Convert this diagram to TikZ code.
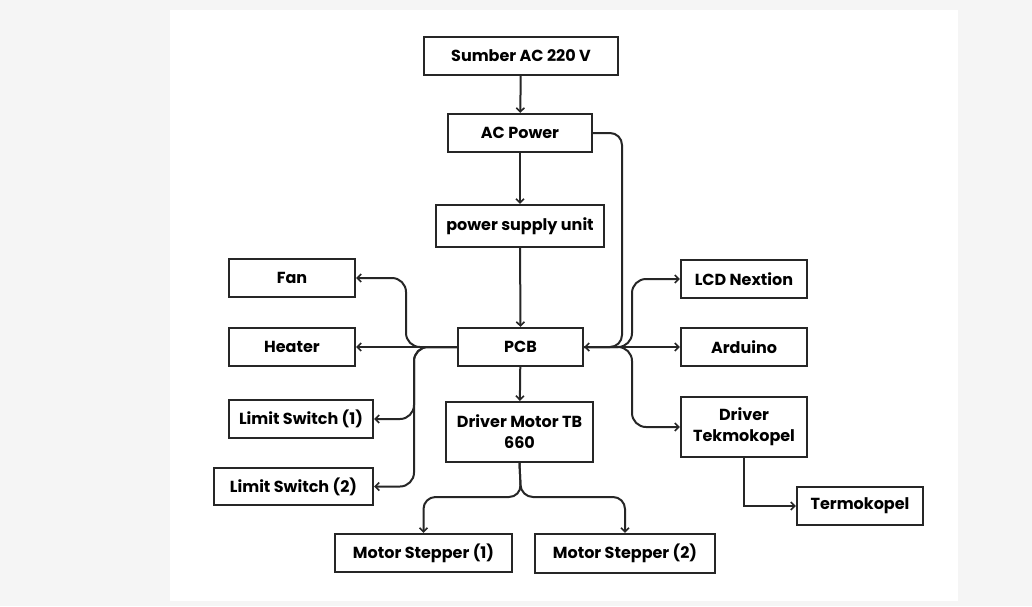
\documentclass[tikz,border=0pt]{standalone}
\usepackage{fontspec}
\setmainfont{Poppins}
\usetikzlibrary{arrows.meta}
\begin{document}
\begin{tikzpicture}[x=1pt,y=-1pt,
  box/.style={draw=black!85, line width=2.2pt, inner sep=0pt, align=center,
    font=\fontsize{16}{21}\selectfont\bfseries},
  arr/.style={draw=black!85, line width=2pt, -{Straight Barb[length=4pt,width=8pt,line width=1.6pt]}}]
\fill[gray!8] (0,0) rectangle (1032,606);
\fill[white] (170,10) rectangle (958,601);
\useasboundingbox (0,0) rectangle (1032,606);
% nodes
\node[box, minimum width=194pt, minimum height=38pt] (sumber) at (521,56) {Sumber AC 220 V};
\node[box, minimum width=144pt, minimum height=38pt] (acp) at (520,133) {AC Power};
\node[box, minimum width=168pt, minimum height=42pt] (psu) at (520,226) {power supply unit};
\node[box, minimum width=125pt, minimum height=38pt] (pcb) at (520.5,347) {PCB};
\node[box, minimum width=126pt, minimum height=38pt] (fan) at (292,278) {Fan};
\node[box, minimum width=126pt, minimum height=38pt] (heater) at (292,347) {Heater};
\node[box, minimum width=144pt, minimum height=38pt] (ls1) at (301,419) {Limit Switch (1)};
\node[box, minimum width=159pt, minimum height=37pt] (ls2) at (293.5,486.5) {Limit Switch (2)};
\node[box, minimum width=147pt, minimum height=60pt] (drvm) at (519.5,432) {Driver Motor TB\\660};
\node[box, minimum width=126pt, minimum height=38pt] (lcd) at (744,279) {LCD Nextion};
\node[box, minimum width=126pt, minimum height=38pt] (ard) at (744,347) {Arduino};
\node[box, minimum width=126pt, minimum height=60pt] (drvt) at (744,427) {Driver\\Tekmokopel};
\node[box, minimum width=126pt, minimum height=38pt] (termo) at (860,506) {Termokopel};
\node[box, minimum width=177pt, minimum height=38pt] (ms1) at (423.5,553) {Motor Stepper (1)};
\node[box, minimum width=180pt, minimum height=39pt] (ms2) at (625,553.5) {Motor Stepper (2)};
% junction coordinates
\coordinate (jr) at (632,347);
\coordinate (jl1) at (406,347);
\coordinate (jl2) at (414,347);
\coordinate (jac) at (622,347);
\coordinate (jm) at (521,497);
% connectors
\draw[arr] (sumber) -- (acp);
\draw[arr] (acp) -- (psu);
\draw[arr] (psu) -- (pcb);
\draw[arr] (pcb) -- (drvm);
\draw[arr, rounded corners=12pt] (acp.east) -| (jac) -- (pcb.east);
\draw[arr, rounded corners=14pt] (pcb.east) -- (jr) |- (lcd.west);
\draw[arr] (pcb.east) -- (ard.west);
\draw[arr, rounded corners=14pt] (pcb.east) -- (jr) |- (drvt.west);
\draw[arr] (drvt.south) |- (termo.west);
\draw[arr] (pcb.west) -- (heater.east);
\draw[arr, rounded corners=14pt] (pcb.west) -- (jl1) |- (fan.east);
\draw[arr, rounded corners=14pt] (pcb.west) -- (jl2) |- (ls1.east);
\draw[arr, rounded corners=14pt] (pcb.west) -- (jl2) |- (ls2.east);
\draw[arr, rounded corners=12pt] (drvm.south) -- (jm) -| (ms1.north);
\draw[arr, rounded corners=12pt] (drvm.south) -- (jm) -| (ms2.north);
\end{tikzpicture}
\end{document}
